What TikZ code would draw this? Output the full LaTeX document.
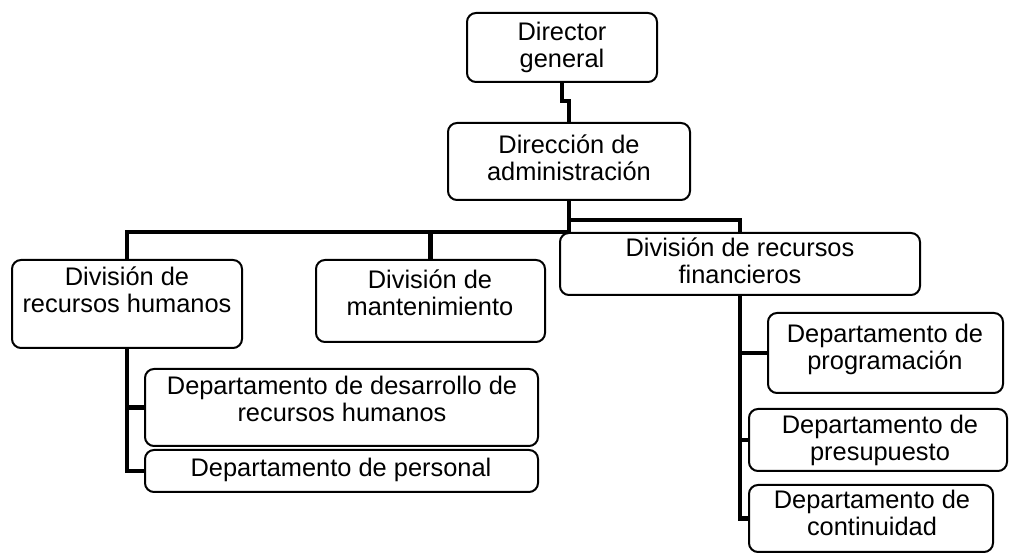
\documentclass[tikz,border=0pt]{standalone}
\usepackage{fontspec}
\setmainfont{Liberation Sans}
\usetikzlibrary{fit,calc}
\begin{document}
\begin{tikzpicture}[x=0.5pt,y=-0.5pt,
  box/.style={draw=black, line width=1pt, rounded corners=4.5pt, inner sep=0pt},
  txt/.style={align=center, inner sep=0pt, font=\fontsize{12.7pt}{13.5pt}\selectfont},
  conn/.style={draw=black, line width=2.2pt, line cap=rect}]
\fill[white] (0,0) rectangle (1009,555);
\useasboundingbox (0,0) rectangle (1009,555);
% boxes
\node[box, fit={(467,13) (657,82)}] (dg) {};
\node[box, fit={(448,123) (690,200)}] (da) {};
\node[box, fit={(12,260) (242,348)}] (rh) {};
\node[box, fit={(316,260) (545,342)}] (mt) {};
\node[box, fit={(560,233) (920,295)}] (rf) {};
\node[box, fit={(768,313) (1003,393)}] (pr) {};
\node[box, fit={(145,369) (538,446)}] (de) {};
\node[box, fit={(145,450) (538,492)}] (pe) {};
\node[box, fit={(749,409) (1007,471)}] (pu) {};
\node[box, fit={(749,485) (993,552)}] (co) {};
% texts
\node[txt] (dg-t) at (562,47) {Director\\general};
\node[txt] (da-t) at (569,158) {Dirección de\\administración};
\node[txt] (rh-t) at (127,290) {División de\\recursos humanos};
\node[txt] (mt-t) at (430,293) {División de\\mantenimiento};
\node[txt] (rf-t) at (740,261) {División de recursos\\financieros};
\node[txt] (pr-t) at (885,349) {Departamento de\\programación};
\node[txt] (de-t) at (342,399) {Departamento de desarrollo de\\recursos humanos};
\node[txt] (pe-t) at (341,470) {Departamento de personal};
\node[txt] (pu-t) at (880,440) {Departamento de\\presupuesto};
\node[txt] (co-t) at (872,513) {Departamento de\\continuidad};
% connectors
\draw[conn] (dg.south) -- ++(0,18) -| (da.north);
\coordinate (hub) at (571,232);
\coordinate (hub2) at (571,220);
\draw[conn] (da.south) -- (da.south |- hub);
\draw[conn] (rh.north |- hub) -- (da.south |- hub);
\draw[conn] (rh.north |- hub) -- (rh.north);
\draw[conn] (mt.north |- hub) -- (mt.north);
\draw[conn] (da.south |- hub2) -| (rf.north);
\draw[conn] (rh.south) |- (pe.west);
\draw[conn] (rh.south |- de.west) -- (de.west);
\draw[conn] (rf.south) |- (co.west);
\draw[conn] (rf.south |- pr.west) -- (pr.west);
\draw[conn] (rf.south |- pu.west) -- (pu.west);
\end{tikzpicture}
\end{document}
